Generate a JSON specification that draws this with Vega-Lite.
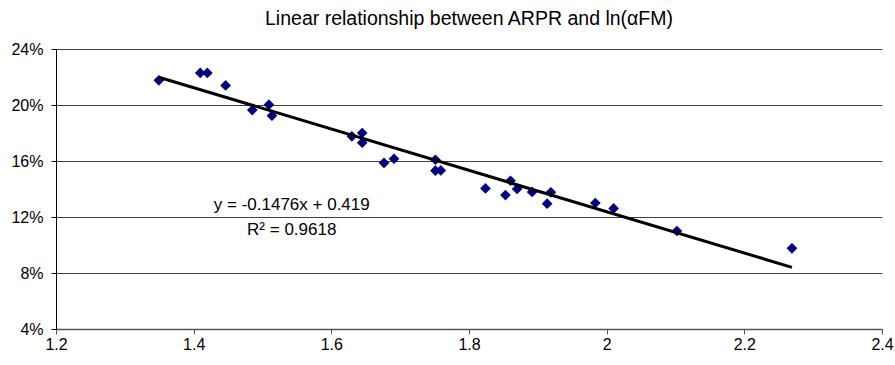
{
  "$schema": "https://vega.github.io/schema/vega-lite/v6.json",
  "autosize": {"type": "none"},
  "width": 826,
  "height": 280,
  "padding": {"left": 56, "top": 49, "right": 13, "bottom": 36},
  "background": "white",
  "config": {
    "view": {"stroke": null},
    "font": "Liberation Sans",
    "axis": {"labelFont": "Liberation Sans", "labelColor": "black"}
  },
  "title": {
    "text": "Linear relationship between ARPR and ln(αFM)",
    "font": "Liberation Sans",
    "fontSize": 19.5,
    "fontWeight": "normal",
    "color": "black",
    "anchor": "middle",
    "baseline": "alphabetic",
    "offset": -3
  },
  "datasets": {
    "points": [
      {"x": 1.3494, "y": 0.2176},
      {"x": 1.4096, "y": 0.2229},
      {"x": 1.4198, "y": 0.2229},
      {"x": 1.4464, "y": 0.2140},
      {"x": 1.4852, "y": 0.1964},
      {"x": 1.5093, "y": 0.2002},
      {"x": 1.5137, "y": 0.1924},
      {"x": 1.6299, "y": 0.1776},
      {"x": 1.6448, "y": 0.1800},
      {"x": 1.6448, "y": 0.1731},
      {"x": 1.6765, "y": 0.1586},
      {"x": 1.6911, "y": 0.1616},
      {"x": 1.7512, "y": 0.1609},
      {"x": 1.7512, "y": 0.1531},
      {"x": 1.7590, "y": 0.1533},
      {"x": 1.8239, "y": 0.1404},
      {"x": 1.8530, "y": 0.1357},
      {"x": 1.8603, "y": 0.1459},
      {"x": 1.8699, "y": 0.1400},
      {"x": 1.8917, "y": 0.1379},
      {"x": 1.9135, "y": 0.1295},
      {"x": 1.9189, "y": 0.1376},
      {"x": 1.9835, "y": 0.1300},
      {"x": 2.0101, "y": 0.1261},
      {"x": 2.1020, "y": 0.1100},
      {"x": 2.2692, "y": 0.0976}
    ],
    "trend": [
      {"x": 1.3494, "y": 0.21983},
      {"x": 2.2692, "y": 0.08406}
    ],
    "labels": [
      {"x": 1.5425, "y": 0.1288, "label": "y = -0.1476x + 0.419"},
      {"x": 1.5425, "y": 0.1106, "label": "R² = 0.9618"}
    ]
  },
  "layer": [
    {
      "data": {"name": "points"},
      "mark": {"type": "point", "shape": "diamond", "filled": true, "size": 115, "color": "#000080", "opacity": 1},
      "encoding": {
        "x": {
          "field": "x", "type": "quantitative",
          "scale": {"domain": [1.2, 2.4], "nice": false, "zero": false},
          "axis": {
            "title": null,
            "values": [1.2, 1.4, 1.6, 1.8, 2, 2.2, 2.4],
            "format": "~g",
            "grid": false,
            "domainColor": "#555555",
            "domainWidth": 1.5,
            "tickColor": "#555555",
            "tickSize": 5,
            "labelFontSize": 16,
            "labelPadding": 2,
            "labelFlush": false
          }
        },
        "y": {
          "field": "y", "type": "quantitative",
          "scale": {"domain": [0.04, 0.24], "nice": false, "zero": false},
          "axis": {
            "title": null,
            "values": [0.04, 0.08, 0.12, 0.16, 0.2, 0.24],
            "format": ".0%",
            "grid": true,
            "gridColor": "#404040",
            "gridWidth": 1,
            "domainColor": "black",
            "tickColor": "black",
            "tickSize": 5,
            "labelFontSize": 16,
            "labelPadding": 8
          }
        }
      }
    },
    {
      "data": {"name": "trend"},
      "mark": {"type": "line", "color": "black", "strokeWidth": 3},
      "encoding": {
        "x": {"field": "x", "type": "quantitative"},
        "y": {"field": "y", "type": "quantitative"}
      }
    },
    {
      "data": {"name": "labels"},
      "mark": {"type": "text", "font": "Liberation Sans", "fontSize": 17, "align": "center", "baseline": "middle", "color": "black"},
      "encoding": {
        "x": {"field": "x", "type": "quantitative"},
        "y": {"field": "y", "type": "quantitative"},
        "text": {"field": "label"}
      }
    }
  ]
}
